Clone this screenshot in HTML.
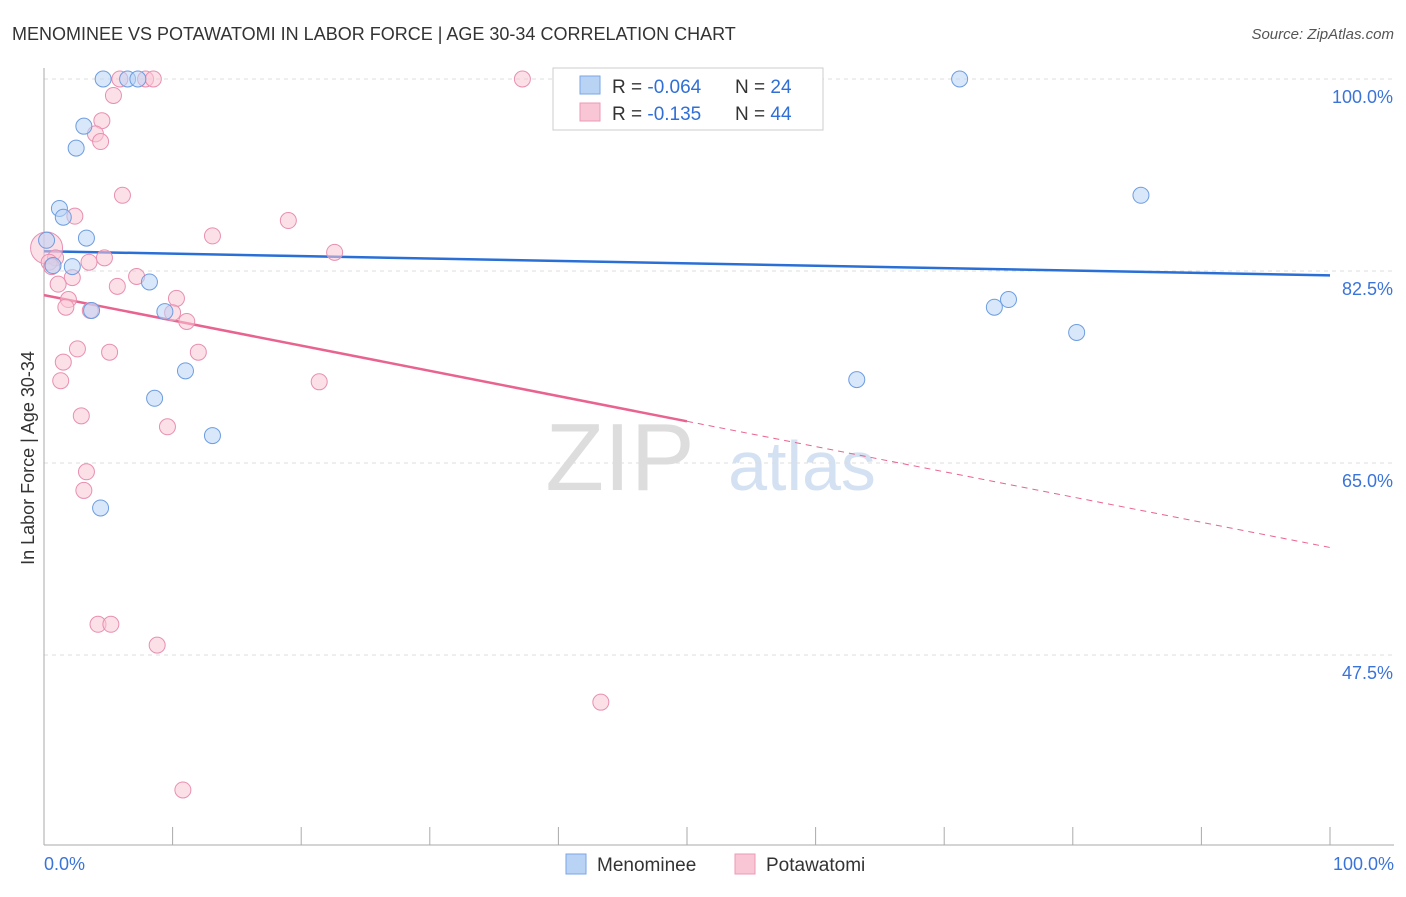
<!DOCTYPE html>
<html><head><meta charset="utf-8"><style>
body{margin:0;background:#fff;font-family:"Liberation Sans",sans-serif;}
svg text{font-family:"Liberation Sans",sans-serif;}
</style></head><body>
<svg id="chart" width="1406" height="892">
<text x="12" y="40" font-size="18" fill="#333">MENOMINEE VS POTAWATOMI IN LABOR FORCE | AGE 30-34 CORRELATION CHART</text>
<text x="1394" y="39" font-size="15" fill="#555" text-anchor="end" font-style="italic">Source: ZipAtlas.com</text>
<text x="620" y="490" font-size="96" fill="#ddd" font-family="Liberation Serif" text-anchor="middle">ZIP</text>
<text x="802" y="490" font-size="70" fill="#d3e1f3" text-anchor="middle">atlas</text>
<text transform="translate(34,458) rotate(-90)" font-size="18" fill="#333" text-anchor="middle">In Labor Force | Age 30-34</text>
<g id="grid"></g><g id="ticks"></g><g id="lines"></g><g id="pts"></g>
<g>
<rect x="553" y="68" width="270" height="62" fill="#fff" stroke="#ccc"/>
<rect x="580" y="76" width="20" height="18" fill="#b9d3f5" stroke="#7aa6e6"/>
<rect x="580" y="103" width="20" height="18" fill="#f9c6d6" stroke="#ec9ab5"/>
<text x="612" y="93" font-size="19" fill="#333">R = <tspan fill="#2f6fd6">-0.064</tspan></text>
<text x="735" y="93" font-size="19" fill="#333">N = <tspan fill="#2f6fd6">24</tspan></text>
<text x="612" y="120" font-size="19" fill="#333">R =  <tspan fill="#2f6fd6">-0.135</tspan></text>
<text x="735" y="120" font-size="19" fill="#333">N = <tspan fill="#2f6fd6">44</tspan></text>
</g>
<g>
<rect x="566" y="854" width="20" height="20" fill="#b9d3f5" stroke="#7aa6e6"/>
<text x="597" y="871" font-size="19" fill="#333">Menominee</text>
<rect x="735" y="854" width="20" height="20" fill="#f9c6d6" stroke="#ec9ab5"/>
<text x="766" y="871" font-size="19" fill="#333">Potawatomi</text>
</g>
</svg>
<script>
const yTicks=[100,82.5,65,47.5];
const yTickLabels=["100.0%","82.5%","65.0%","47.5%"];
const blueX=[4.6,6.5,7.3,71.2,3.1,2.5,1.2,1.5,3.3,0.2,0.7,2.2,85.3,8.2,3.7,9.4,75.0,73.9,80.3,11.0,63.2,8.6,13.1,4.4];
const blueY=[100,100,100,100,95.7,93.7,88.2,87.4,85.5,85.3,83.0,82.9,89.4,81.5,78.9,78.8,79.9,79.2,76.9,73.4,72.6,70.9,67.5,60.9];
const pinkX=[5.9,7.9,8.5,37.2,5.4,4.5,4.0,4.4,6.1,2.4,19.0,13.1,22.6,0.2,0.9,0.4,4.7,3.5,2.2,1.1,5.7,7.2,10.3,1.9,1.7,10.0,11.1,3.6,2.6,5.1,12.0,1.5,1.3,21.4,2.9,9.6,3.3,3.1,4.2,5.2,8.8,43.3,10.8,0.6];
const pinkY=[100,100,100,100,98.5,96.2,95.0,94.3,89.4,87.5,87.1,85.7,84.2,84.6,83.7,83.3,83.7,83.3,81.9,81.3,81.1,82.0,80.0,79.9,79.2,78.7,77.9,78.9,75.4,75.1,75.1,74.2,72.5,72.4,69.3,68.3,64.2,62.5,50.3,50.3,48.4,43.2,35.2,82.9];
const blueTrend=[84.3,82.1];
const pinkTrend=[80.3,57.3];
const NS="http://www.w3.org/2000/svg";
const X=v=>44+v/100*1286, Y=v=>79+(100-v)/17.5*192;
function mk(t,a,p){const e=document.createElementNS(NS,t);for(const k in a)e.setAttribute(k,a[k]);document.getElementById(p).appendChild(e);return e;}
yTicks.forEach((v,i)=>{
 const l=mk('line',{x1:44,x2:1394,y1:Y(v),y2:Y(v),stroke:'#ddd','stroke-dasharray':'4,4'},'grid');
 
 
 const t=mk('text',{x:1393,y:Y(v)+24,'font-size':18,fill:'#3b74d8','text-anchor':'end'},'grid');t.textContent=yTickLabels[i];
 
 
});
const ax=mk('line',{x1:44,x2:1394,y1:845,y2:845,stroke:'#aaa'},'ticks');


const ay=mk('line',{x1:44,x2:44,y1:68,y2:845,stroke:'#aaa'},'ticks');


for(let i=0;i<=10;i++){const t=mk('line',{x1:X(i*10),x2:X(i*10),y1:827,y2:845,stroke:'#aaa'},'ticks');
 
 }
[['0.0%',44,'start'],['100.0%',1394,'end']].forEach(a=>{const t=mk('text',{x:a[1],y:870,'font-size':18,fill:'#3b74d8','text-anchor':a[2]},'ticks');t.textContent=a[0];
 
 });
function pts(xs,ys,f,s,n,big){xs.forEach((x,i)=>{const c=mk('circle',{cx:X(x),cy:Y(ys[i]),r:(big===i?16:8),fill:f,'fill-opacity':0.55,stroke:s,'stroke-width':1},'pts');
 
 });}
pts(pinkX,pinkY,'#f9c6d6','#e88fb0','potawatomi-point',13);
pts(blueX,blueY,'#b9d3f5','#6d9de0','menominee-point',-1);
const bl=mk('line',{x1:X(0),y1:Y(blueTrend[0]),x2:X(100),y2:Y(blueTrend[1]),stroke:'#2a6fd6','stroke-width':2.5},'lines');


const pm=pinkTrend[0]+(pinkTrend[1]-pinkTrend[0])*0.5;
const pl=mk('line',{x1:X(0),y1:Y(pinkTrend[0]),x2:X(50),y2:Y(pm),stroke:'#e8648f','stroke-width':2.5},'lines');


const pd=mk('line',{x1:X(50),y1:Y(pm),x2:X(100),y2:Y(pinkTrend[1]),stroke:'#e8648f','stroke-width':1,'stroke-dasharray':'6,5'},'lines');


</script>
</body></html>
